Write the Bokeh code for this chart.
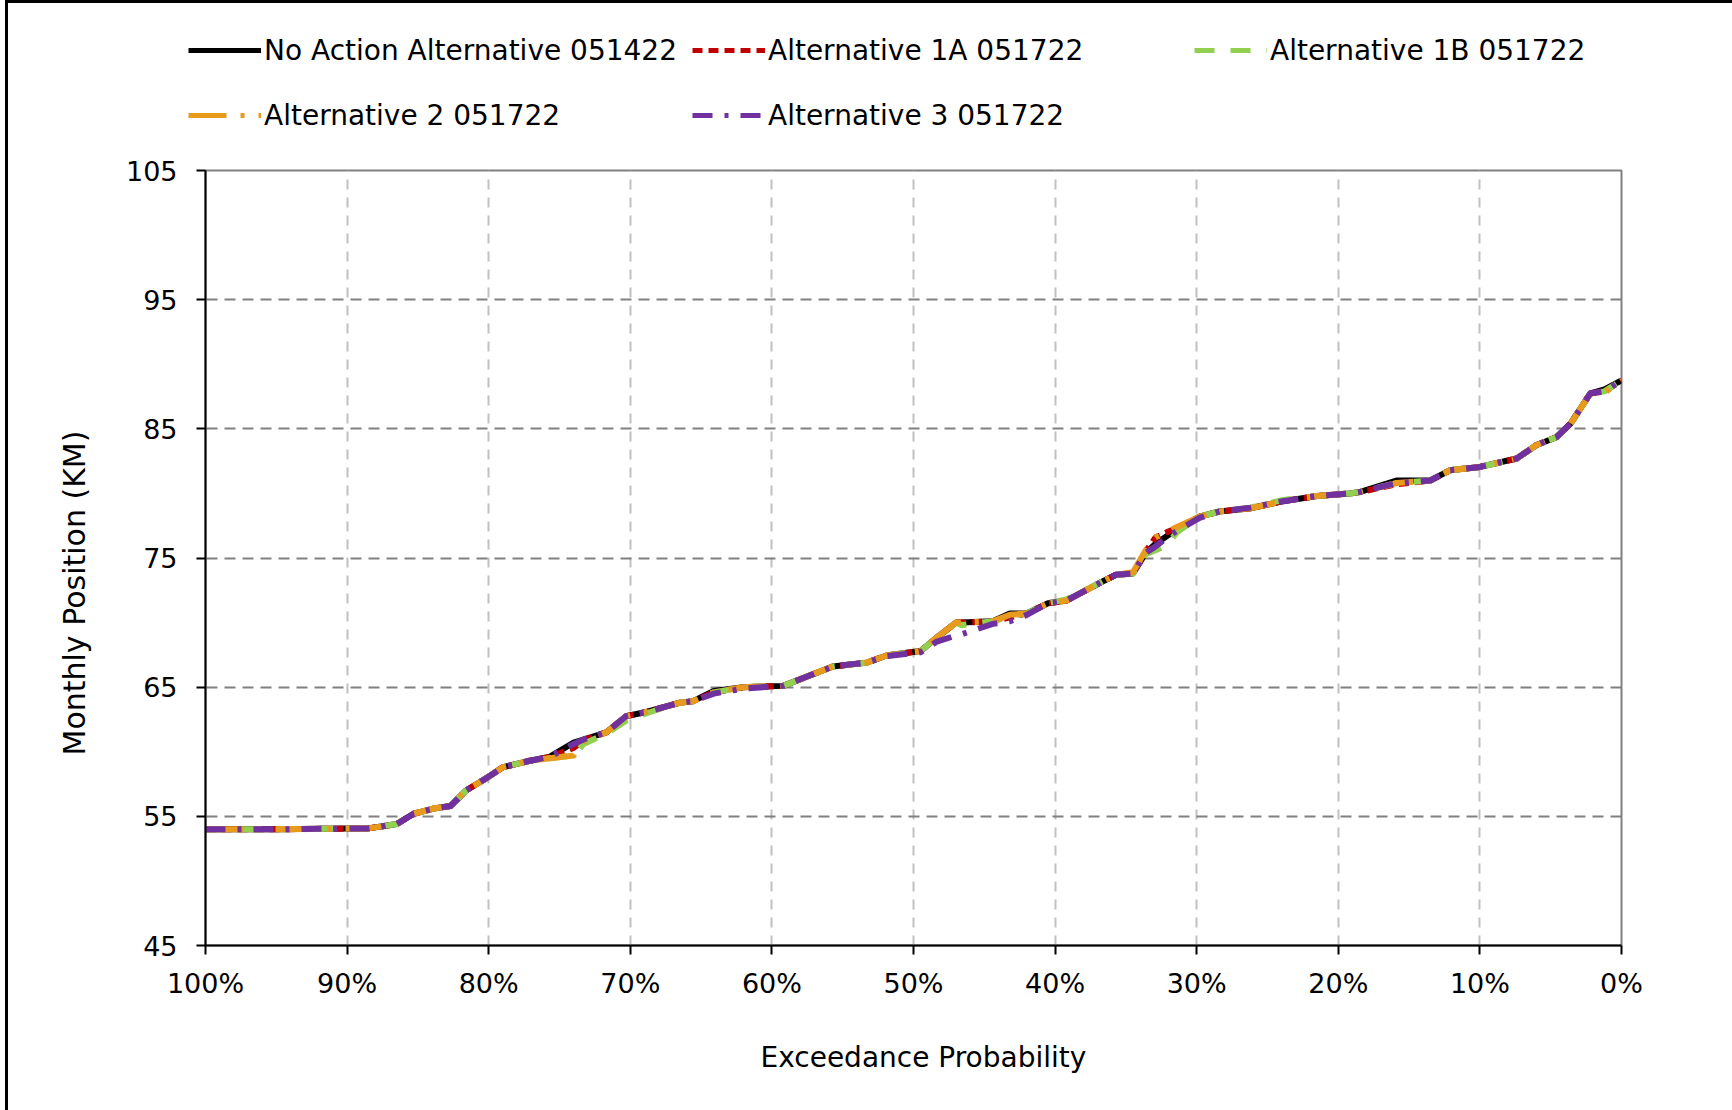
from bokeh.plotting import figure
from bokeh.layouts import column
from bokeh.models import Range1d, FixedTicker, Legend, LegendItem, Title
from bokeh.embed import file_html
from bokeh.resources import INLINE

# Exceedance probability (%)
exceedance = [100, 95, 90, 88.6, 86.5, 85.3, 83.9, 82.7, 81.6, 80.1,
              79.0, 77.1, 75.7, 74.0, 73.3, 71.7, 70.3, 68.8, 66.5, 65.6,
              64.1, 62.0, 59.2, 55.7, 53.3, 51.9, 49.5, 48.4, 47.0, 46.6,
              44.4, 43.2, 42.0, 40.5, 39.2, 36.8, 35.7, 34.5, 33.6, 32.9,
              32.1, 31.4, 29.8, 28.4, 26.2, 23.9, 21.5, 19.2, 18.5, 15.9,
              13.5, 12.1, 10.0, 7.4, 6.0, 4.6, 3.6, 2.2, 1.2, 0]

no_action = [54.0, 54.0, 54.05, 54.05, 54.4, 55.2, 55.6, 55.8, 57.0, 58.0,
             58.8, 59.3, 59.6, 60.7, 60.95, 61.5, 62.75, 63.1, 63.8, 63.9,
             64.7, 65.0, 65.1, 66.6, 66.9, 67.45, 67.8, 68.8, 70.0, 70.0,
             70.1, 70.7, 70.7, 71.5, 71.7, 73.1, 73.7, 73.8, 75.4, 76.1,
             76.7, 77.2, 78.2, 78.6, 78.85, 79.4, 79.8, 80.0, 80.1, 81.0,
             81.0, 81.8, 82.05, 82.7, 83.75, 84.35, 85.4, 87.75, 88.05, 88.75]

alt_1a = [54.0, 54.0, 54.05, 54.05, 54.4, 55.2, 55.6, 55.8, 57.0, 58.0,
          58.8, 59.3, 59.6, 60.3, 60.9, 61.5, 62.75, 63.1, 63.8, 63.9,
          64.6, 65.0, 65.1, 66.6, 66.9, 67.45, 67.8, 68.8, 70.0, 70.0,
          70.1, 70.4, 70.7, 71.5, 71.7, 73.1, 73.7, 73.8, 75.5, 76.6,
          77.0, 77.3, 78.2, 78.6, 78.85, 79.4, 79.8, 80.0, 80.1, 80.7,
          81.0, 81.8, 82.05, 82.7, 83.75, 84.35, 85.4, 87.75, 87.9, 88.75]

alt_1b = [54.0, 54.0, 54.05, 54.05, 54.4, 55.2, 55.6, 55.8, 57.0, 58.0,
          58.8, 59.3, 59.5, 59.7, 60.6, 61.4, 62.4, 63.0, 63.8, 63.9,
          64.6, 65.0, 65.1, 66.6, 66.9, 67.45, 67.8, 68.8, 70.0, 69.8,
          70.1, 70.5, 70.7, 71.5, 71.8, 73.1, 73.7, 73.8, 75.3, 75.6,
          76.0, 77.0, 78.2, 78.6, 78.9, 79.5, 79.8, 80.0, 80.1, 80.8,
          81.0, 81.8, 82.05, 82.7, 83.75, 84.35, 85.4, 87.75, 87.9, 88.75]

alt_2 = [54.0, 54.0, 54.05, 54.05, 54.4, 55.2, 55.6, 55.8, 57.0, 58.0,
         58.8, 59.3, 59.5, 59.7, 60.8, 61.5, 62.75, 63.1, 63.8, 63.9,
         64.6, 65.0, 65.1, 66.6, 66.9, 67.45, 67.8, 68.8, 70.0, 70.0,
         70.1, 70.6, 70.7, 71.5, 71.7, 73.1, 73.7, 73.9, 75.6, 76.6,
         77.0, 77.4, 78.2, 78.6, 78.85, 79.4, 79.8, 80.0, 80.1, 80.8,
         81.0, 81.8, 82.05, 82.7, 83.75, 84.35, 85.4, 87.7, 87.8, 88.75]

alt_3 = [54.0, 54.0, 54.05, 54.05, 54.4, 55.2, 55.6, 55.8, 57.0, 58.0,
         58.8, 59.3, 59.6, 60.6, 60.95, 61.5, 62.75, 63.1, 63.8, 63.9,
         64.5, 64.9, 65.1, 66.6, 66.9, 67.4, 67.7, 68.5, 69.0, 69.1,
         69.9, 70.1, 70.6, 71.5, 71.7, 73.1, 73.7, 73.8, 75.4, 75.9,
         76.6, 77.1, 78.1, 78.6, 78.9, 79.4, 79.8, 80.0, 80.1, 80.8,
         81.0, 81.8, 82.05, 82.7, 83.75, 84.35, 85.4, 87.75, 87.9, 88.75]

series_names = ["No Action Alternative 051422", "Alternative 1A 051722",
                "Alternative 1B 051722", "Alternative 2 051722",
                "Alternative 3 051722"]
series_values = [no_action, alt_1a, alt_1b, alt_2, alt_3]
series_colors = ["#000000", "#C00000", "#92D050", "#E89A1C", "#7030A0"]
series_dash = ["solid", "10 6", "20 16", "38 14 4 14", "20 12 4 12"]

x_ticks = [0, 10, 20, 30, 40, 50, 60, 70, 80, 90, 100]
x_tick_labels = {t: f"{t}%" for t in x_ticks}
y_ticks = [45, 55, 65, 75, 85, 95, 105]

FONT = "DejaVu Sans"
LINE_W = 6

LEG_H = 150
MAIN_TOP, FRAME_H = 20, 777
MAIN_BOTTOM = 1110 - LEG_H - MAIN_TOP - FRAME_H   # 163

# ---------------- legend strip (top) ----------------
leg = figure(width=1732, height=LEG_H, x_range=Range1d(0, 1), y_range=Range1d(0, 1),
             output_backend="svg", toolbar_location=None,
             x_axis_location=None, y_axis_location=None,
             min_border=0, min_border_left=0, min_border_right=0,
             min_border_top=0, min_border_bottom=0)
leg.frame_align = False
leg.grid.visible = False
leg.outline_line_color = None
leg.background_fill_color = None
leg.border_fill_color = None
leg.styles = {"background-color": "#ffffff",
              "box-shadow": "inset 5px 0 0 0 #ffffff, inset 8px 3px 0 0 #000000"}

leg_items = []
for name, col, dash in zip(series_names, series_colors, series_dash):
    # legend swatches only; placed outside the visible range
    r = leg.line(x=[5, 6], y=[5, 6], line_color=col, line_width=5, line_dash=dash)
    leg_items.append(LegendItem(label=name, renderers=[r]))

legend = Legend(items=leg_items, location=(188, LEG_H - 25 - 115), orientation="horizontal",
                ncols=3, glyph_width=73, glyph_height=50, label_height=50,
                label_width=411, label_standoff=3, spacing=15, padding=0,
                margin=0, border_line_color=None, background_fill_alpha=0,
                label_text_font=FONT, label_text_font_size="28px",
                label_text_color="black")
leg.add_layout(legend, "center")

# ---------------- main chart ----------------
p = figure(width=1732, height=MAIN_TOP + FRAME_H + MAIN_BOTTOM,
           x_range=Range1d(100, 0), y_range=Range1d(45, 105),
           output_backend="svg", toolbar_location=None,
           min_border_left=205, min_border_right=111,
           min_border_top=MAIN_TOP, min_border_bottom=MAIN_BOTTOM)
p.frame_align = False
p.styles = {"background-color": "#ffffff",
            "box-shadow": "inset 5px 0 0 0 #ffffff, inset 8px 0 0 0 #000000"}

p.background_fill_color = "white"
p.border_fill_color = None
p.outline_line_color = "#808080"
p.outline_line_width = 2

# grids
p.ygrid.ticker = FixedTicker(ticks=y_ticks)
p.ygrid.grid_line_color = "#808080"
p.ygrid.grid_line_width = 2
p.ygrid.grid_line_dash = "11 7"
p.xgrid.ticker = FixedTicker(ticks=x_ticks)
p.xgrid.grid_line_color = "#C0C0C0"
p.xgrid.grid_line_width = 2
p.xgrid.grid_line_dash = "10 8"

# axes
p.xaxis.ticker = FixedTicker(ticks=x_ticks)
p.xaxis.major_label_overrides = x_tick_labels
p.yaxis.ticker = FixedTicker(ticks=y_ticks)
for ax in (p.xaxis[0], p.yaxis[0]):
    ax.axis_line_color = "black"
    ax.axis_line_width = 2
    ax.major_tick_line_color = "black"
    ax.major_tick_line_width = 2
    ax.major_tick_in = 0
    ax.major_tick_out = 9
    ax.minor_tick_line_color = None
    ax.major_label_text_font = FONT
    ax.major_label_text_font_size = "27px"
    ax.major_label_text_color = "black"
p.xaxis.major_label_standoff = 13
p.yaxis.major_label_standoff = 19

# axis titles (as titles so that they can sit where the reference puts them)
ytitle = Title(text="Monthly Position (KM)", align="left", offset=190,
               text_font=FONT, text_font_size="30px", text_font_style="normal",
               text_color="black", standoff=62)
p.add_layout(ytitle, "left")
xtitle = Title(text="Exceedance Probability", align="left", offset=555,
               text_font=FONT, text_font_size="28px", text_font_style="normal",
               text_color="black", standoff=74)
p.add_layout(xtitle, "below")

for name, vals, col, dash in zip(series_names, series_values, series_colors, series_dash):
    p.line(exceedance, vals, line_color=col, line_width=LINE_W, line_dash=dash,
           line_join="round")

layout = column(leg, p, spacing=0)
open("out.html", "w").write(file_html(layout, INLINE))
